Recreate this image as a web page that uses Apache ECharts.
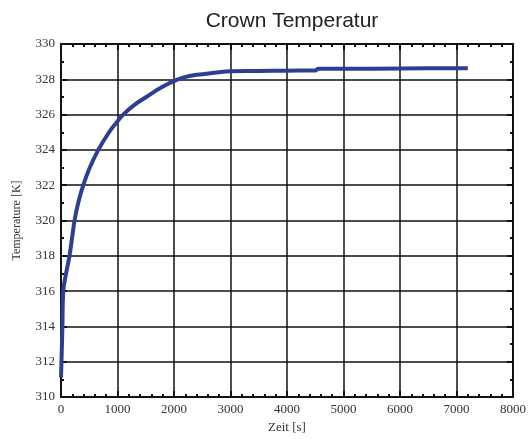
<!DOCTYPE html>
<html>
<head>
<meta charset="utf-8">
<script src="https://cdn.jsdelivr.net/npm/echarts@6/dist/echarts.min.js"></script>
<style>
	html, body { margin: 0; padding: 0; background: #fff; }
	#chart { width: 529px; height: 439px; }
</style>
</head>
<body>
<div id="chart"></div>
<script>
	// data
	const zeit = [0, 10, 25, 40, 90, 150, 195, 240, 305, 394, 510, 660, 850, 970, 1100, 1300, 1510, 1780, 2070, 2300, 2540, 2800, 3000, 3500, 4000, 4500, 4550, 5500, 6500, 7200]
	const temperatur = [311.1, 312.2, 314, 316, 317, 318, 319, 320, 321, 322, 323, 324, 325, 325.5, 326, 326.55, 327, 327.55, 328, 328.2, 328.3, 328.4, 328.45, 328.47, 328.49, 328.5, 328.6, 328.6, 328.62, 328.62]

	const points = zeit.map((t, i) => [t, temperatur[i]])
	const serif = 'Liberation Serif'

	const chart = echarts.init(document.getElementById('chart'))

	// shared axis look: box frame, inward ticks, black grid
	const axisBase = {
		type: 'value',
		axisLine: { show: true, onZero: false, lineStyle: { color: '#111', width: 2 } },
		axisTick: { show: true, inside: true, length: 6, lineStyle: { color: '#111', width: 2 } },
		minorTick: { show: true, length: 3, lineStyle: { color: '#111', width: 2 } },
		axisLabel: { color: '#333', fontFamily: serif, fontSize: 13 },
	}

	const option = {
		animation: false,
		title: {
			text: 'Crown Temperatur',
			left: 287,
			textAlign: 'center',
			top: 6,
			textStyle: { fontFamily: 'Liberation Sans', fontWeight: 'normal', fontSize: 21, color: '#222' }
		},
		grid: { left: 61, right: 15, top: 44, bottom: 37 },
		xAxis: [
			Object.assign({}, axisBase, {
				min: 0, max: 8000, interval: 1000,
				position: 'bottom',
				minorTick: Object.assign({}, axisBase.minorTick, { splitNumber: 5 }),
				splitLine: { show: true, lineStyle: { color: '#111', width: 1.5 } },
				axisLabel: Object.assign({}, axisBase.axisLabel, { margin: 6, formatter: v => String(v) }),
				name: 'Zeit [s]',
				nameLocation: 'middle',
				nameGap: 24,
				nameTextStyle: { fontFamily: serif, fontSize: 13, color: '#333' }
			}),
			Object.assign({}, axisBase, {
				min: 0, max: 8000, interval: 1000,
				position: 'top',
				minorTick: Object.assign({}, axisBase.minorTick, { splitNumber: 5 }),
				axisLabel: { show: false },
				splitLine: { show: false }
			})
		],
		yAxis: [
			Object.assign({}, axisBase, {
				min: 310, max: 330, interval: 2,
				position: 'left',
				minorTick: Object.assign({}, axisBase.minorTick, { splitNumber: 2 }),
				splitLine: { show: true, lineStyle: { color: '#111', width: 1.5 } },
				axisLabel: Object.assign({}, axisBase.axisLabel, { margin: 6 }),
				name: 'Temperature [K]',
				nameLocation: 'middle',
				nameGap: 38,
				nameTextStyle: { fontFamily: serif, fontSize: 12, color: '#333' }
			}),
			Object.assign({}, axisBase, {
				min: 310, max: 330, interval: 2,
				position: 'right',
				minorTick: Object.assign({}, axisBase.minorTick, { splitNumber: 2 }),
				axisLabel: { show: false },
				splitLine: { show: false }
			})
		],
		series: [
			{
				type: 'line',
				data: points,
				showSymbol: false,
				smooth: 0.4,
				lineStyle: { color: '#2e3f92', width: 4 }
			}
		]
	}
	chart.setOption(option)
</script>
</body>
</html>
